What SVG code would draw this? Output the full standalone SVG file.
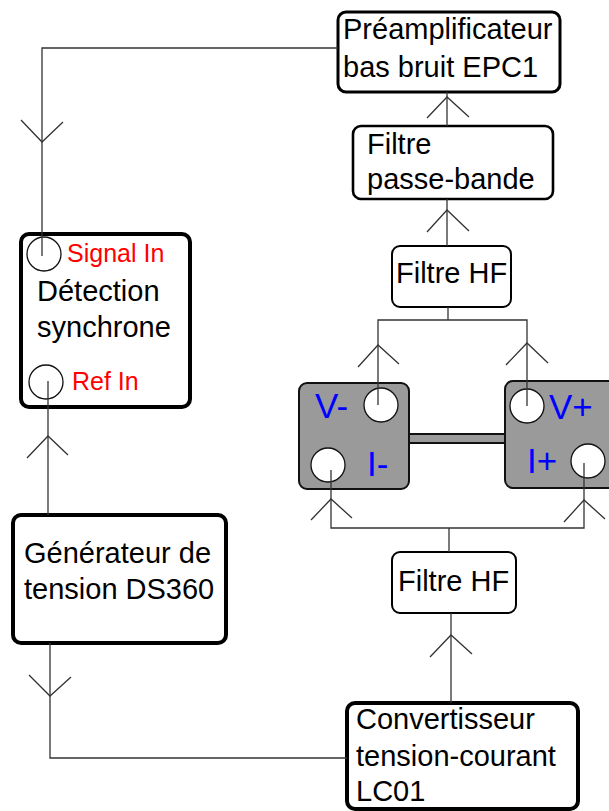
<svg xmlns="http://www.w3.org/2000/svg" width="609" height="811" viewBox="0 0 609 811">
<style>
.box{fill:#fff;stroke:#000;}
.t{font-family:"Liberation Sans",Arial,sans-serif;font-size:29px;fill:#000;}
.red{font-family:"Liberation Sans",Arial,sans-serif;font-size:25px;fill:#ff0000;}
.blue{font-family:"Liberation Sans",Arial,sans-serif;font-size:35px;fill:#0000ff;}
.w{fill:none;stroke:#333;stroke-width:1.3;}
.port{fill:#fff;stroke:#111;stroke-width:1.3;}
.gray{fill:#9a9a9a;stroke:#111;stroke-width:2;}
</style>
<g id="preamp">
<rect class="box" x="338" y="12" width="222" height="80" rx="8" stroke-width="3"/>
<text class="t" x="343" y="39">Préamplificateur</text>
<text class="t" x="343" y="77">bas bruit EPC1</text>
</g>
<g id="filtre-pb">
<rect class="box" x="353" y="126" width="200" height="73" rx="8" stroke-width="2.6"/>
<text class="t" x="367" y="154">Filtre</text>
<text class="t" x="367" y="189">passe-bande</text>
</g>
<g id="filtre-hf-top">
<rect class="box" x="392" y="246" width="119" height="61" rx="8" stroke-width="2"/>
<text class="t" x="396" y="283">Filtre HF</text>
</g>
<g id="detection">
<rect class="box" x="21" y="234" width="169" height="173" rx="8" stroke-width="4"/>
<text class="t" x="37" y="301">Détection</text>
<text class="t" x="37" y="337">synchrone</text>
<circle class="port" cx="44" cy="254" r="17"/>
<text class="red" x="67" y="262">Signal In</text>
<circle class="port" cx="46" cy="382" r="17"/>
<text class="red" x="72" y="390">Ref In</text>
</g>
<g id="generateur">
<rect class="box" x="13" y="515" width="213" height="128" rx="8" stroke-width="4"/>
<text class="t" x="24" y="563">Générateur de</text>
<text class="t" x="24" y="599">tension DS360</text>
</g>
<g id="echantillon">
<rect class="gray" x="409" y="434" width="96" height="9"/>
<rect class="gray" x="299" y="383" width="110" height="106" rx="8"/>
<rect class="gray" x="505" y="381" width="115" height="107" rx="8"/>
<circle class="port" cx="381" cy="405" r="17"/>
<circle class="port" cx="328" cy="465" r="17"/>
<circle class="port" cx="527" cy="406" r="17"/>
<circle class="port" cx="588" cy="461" r="17"/>
<text class="blue" x="315" y="418">V-</text>
<text class="blue" x="549" y="419">V+</text>
<text class="blue" x="367" y="476">I-</text>
<text class="blue" x="527" y="473">I+</text>
</g>
<g id="filtre-hf-bottom">
<rect class="box" x="392" y="552" width="124" height="61" rx="8" stroke-width="2"/>
<text class="t" x="398" y="591">Filtre HF</text>
</g>
<g id="convertisseur">
<rect class="box" x="347" y="703" width="231" height="106" rx="8" stroke-width="4"/>
<text class="t" x="356" y="729">Convertisseur</text>
<text class="t" x="356" y="766">tension-courant</text>
<text class="t" x="356" y="801">LC01</text>
</g>
<g id="connectors">
<polyline class="w" points="338,48 42,48 42,256"/>
<polyline class="w" points="21,120 42,142 63,122"/>
<line class="w" x1="447" y1="92" x2="447" y2="126"/>
<polyline class="w" points="427,118 447,97 469,117"/>
<line class="w" x1="447" y1="199" x2="447" y2="246"/>
<polyline class="w" points="427,232 447,210 469,231"/>
<polyline class="w" points="378,405 378,320 527,320 527,406"/>
<line class="w" x1="448" y1="307" x2="448" y2="320"/>
<polyline class="w" points="358,367 378,345 399,364"/>
<polyline class="w" points="506,365 527,343 548,363"/>
<polyline class="w" points="331,470 331,528 584,528 584,463"/>
<line class="w" x1="449" y1="528" x2="449" y2="552"/>
<polyline class="w" points="311,520 331,499 352,518"/>
<polyline class="w" points="564,522 584,500 605,519"/>
<line class="w" x1="451" y1="613" x2="451" y2="703"/>
<polyline class="w" points="430,657 451,635 472,654"/>
<line class="w" x1="48" y1="381" x2="48" y2="515"/>
<polyline class="w" points="27,458 48,436 68,455"/>
<polyline class="w" points="50,643 50,758 347,758"/>
<polyline class="w" points="29,675 50,696 71,677"/>
</g>
</svg>
